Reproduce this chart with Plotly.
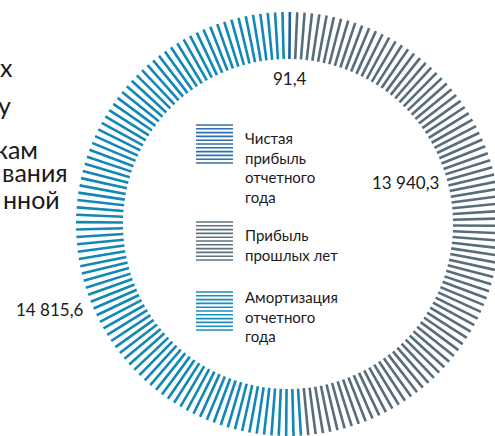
import numpy as np
import plotly.graph_objects as go

# ---- data ----
categories = ["Чистая прибыль отчетного года", "Прибыль прошлых лет", "Амортизация отчетного года"]
legend_labels = ["Чистая<br>прибыль<br>отчетного<br>года", "Прибыль<br>прошлых лет", "Амортизация<br>отчетного<br>года"]
values = [91.4, 13940.3, 14815.6]
value_labels = ["91,4", "13 940,3", "14 815,6"]
title_fragments = ["х", "у", "кам", "вания", "нной"]

# ---- style ----
colors = ["#1d5f9f", "#566e7b", "#1288b5"]
legend_colors = ["#2f6fb0", "#5c737f", "#1a8fbc"]
W, H = 495, 436
CX, CY = 288, 224
R_IN, R_OUT = 165, 212
N_LINES = 180
FONT = "Lato"

total = sum(values)
bounds = np.cumsum([0.0] + values) / total * 360.0
step = 360.0 / N_LINES
line_angles = np.arange(N_LINES) * step + 0.5

fig = go.Figure()
for i, cat in enumerate(categories):
    sel = line_angles[(line_angles >= bounds[i]) & (line_angles < bounds[i + 1])]
    xs, ys = [], []
    for a in sel:
        t = np.deg2rad(a)
        xs += [CX + R_IN * np.sin(t), CX + R_OUT * np.sin(t), None]
        ys += [CY - R_IN * np.cos(t), CY - R_OUT * np.cos(t), None]
    fig.add_trace(go.Scatter(x=xs, y=ys, mode="lines", name=cat,
                             line=dict(color=colors[i], width=2.6),
                             hoverinfo="skip"))

# legend blocks (decorative stripes + text)
legend_tops = [125, 222, 292]
shapes = []
for i, top in enumerate(legend_tops):
    for k in range(11):
        y = top + k * 3.8
        shapes.append(dict(type="line", x0=196, x1=233, y0=y, y1=y, xref="x", yref="y",
                           line=dict(color=legend_colors[i], width=1.6)))

annotations = []
legend_text_top = [127, 224, 286]
for i, lab in enumerate(legend_labels):
    annotations.append(dict(x=243, y=legend_text_top[i], xref="x", yref="y", text=lab,
                            showarrow=False, xanchor="left", yanchor="top", align="left",
                            font=dict(family=FONT, size=15, color="#1a1a1a")))

# value labels
value_pos = [(290, 78), (405, 182), (50, 309)]
for (x, y), lab in zip(value_pos, value_labels):
    annotations.append(dict(x=x, y=y, xref="x", yref="y", text=lab, showarrow=False,
                            xanchor="center", yanchor="middle",
                            font=dict(family=FONT, size=17, color="#1a1a1a")))

# clipped title fragments at left edge
frag_pos = [(15, 67), (13, 105), (40, 149), (70, 172), (62, 199)]
for (x, y), t in zip(frag_pos, title_fragments):
    annotations.append(dict(x=x, y=y, xref="x", yref="y", text=t, showarrow=False,
                            xanchor="right", yanchor="middle",
                            font=dict(family=FONT, size=25, color="#1a1a1a")))

fig.update_layout(
    width=W, height=H, margin=dict(l=0, r=0, t=0, b=0),
    paper_bgcolor="white", plot_bgcolor="white", showlegend=False,
    xaxis=dict(range=[0, W], visible=False, fixedrange=True),
    yaxis=dict(range=[H, 0], visible=False, fixedrange=True),
    shapes=shapes, annotations=annotations,
)
fig.write_html("out.html", config={"displayModeBar": False},
               post_script="document.body.style.margin='0';")
